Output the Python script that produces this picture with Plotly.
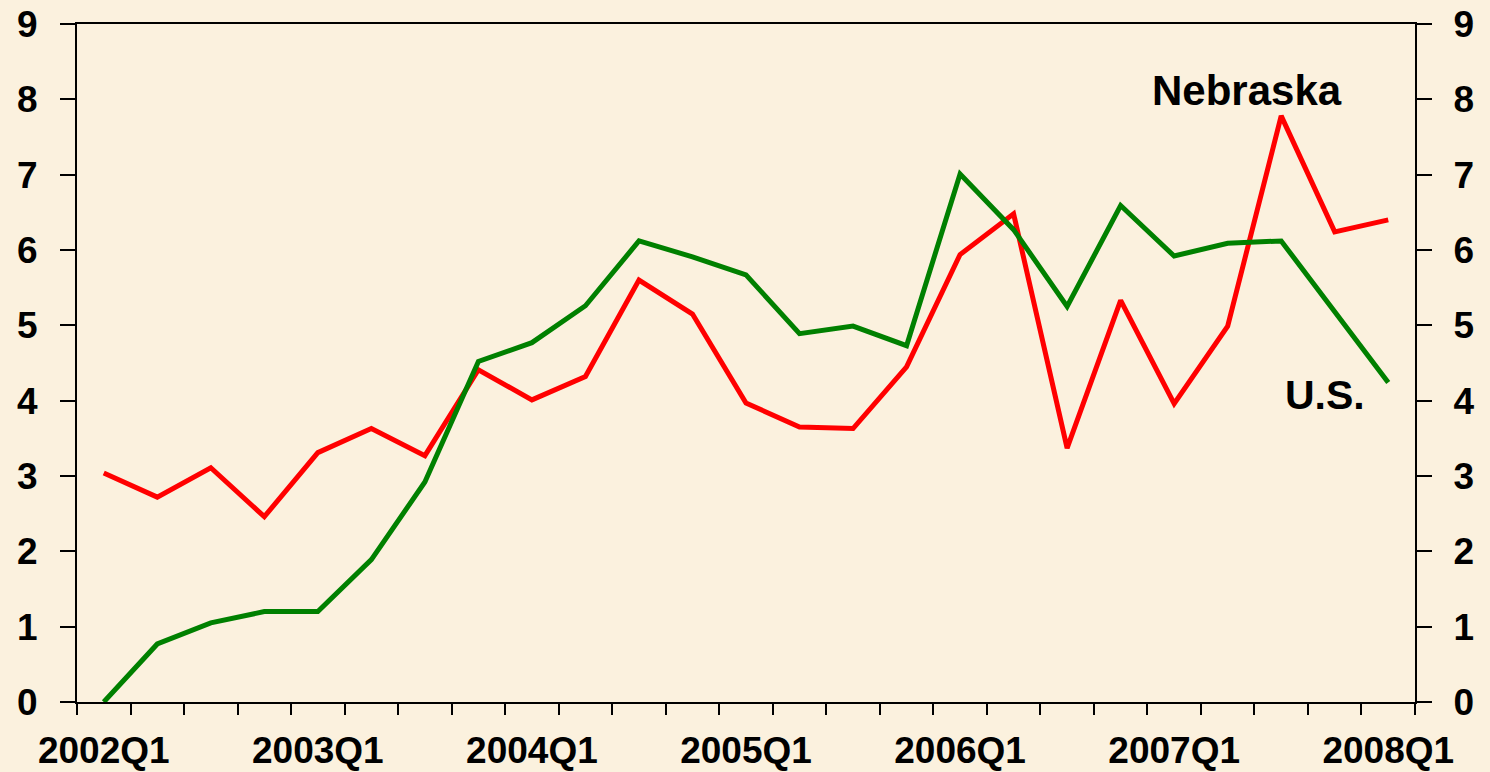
import plotly.graph_objects as go

quarters = [f"{y}Q{q}" for y in range(2002, 2008) for q in range(1, 5)] + ["2008Q1"]

nebraska = [3.04, 2.72, 3.11, 2.46, 3.31, 3.63, 3.27, 4.41, 4.01, 4.32, 5.60, 5.15,
            3.97, 3.65, 3.63, 4.45, 5.94, 6.48, 3.37, 5.33, 3.96, 4.99, 7.78, 6.24, 6.40]
us = [0.00, 0.77, 1.05, 1.20, 1.20, 1.89, 2.92, 4.52, 4.77, 5.26, 6.12, 5.91,
      5.67, 4.89, 4.99, 4.73, 7.01, 6.27, 5.25, 6.59, 5.92, 6.09, 6.12, 5.17, 4.24]

y_ticks = list(range(0, 10))

FONT = "Liberation Sans, Arial, sans-serif"
BG = "#FBF1DE"

fig = go.Figure()
fig.add_trace(go.Scatter(x=quarters, y=nebraska, mode="lines", name="Nebraska",
                         line=dict(color="#FF0000", width=5), yaxis="y"))
fig.add_trace(go.Scatter(x=quarters, y=us, mode="lines", name="U.S.",
                         line=dict(color="#008000", width=5), yaxis="y2"))

fig.add_annotation(x=21.36, y=8.12, xref="x", yref="y", text="Nebraska", showarrow=False,
                   font=dict(family=FONT, size=42, color="black", weight="bold"))
fig.add_annotation(x=22.82, y=4.08, xref="x", yref="y", text="U.S.", showarrow=False,
                   font=dict(family=FONT, size=41, color="black", weight="bold"))

tickfont = dict(family=FONT, size=37, color="black", weight="bold")

fig.update_layout(
    width=1490, height=772,
    margin=dict(l=77, r=75, t=24, b=70),
    paper_bgcolor=BG, plot_bgcolor=BG,
    showlegend=False,
    xaxis=dict(type="category", categoryorder="array", categoryarray=quarters,
               range=[-0.5, 24.5], tickson="boundaries", ticks="outside", ticklen=11,
               tickwidth=2, tickcolor="black", ticklabelstep=4, tickangle=0,
               automargin=False,
               showline=True, linecolor="black", linewidth=2, mirror=True,
               showgrid=False, zeroline=False, tickfont=tickfont, ticklabelstandoff=15),
    yaxis=dict(range=[0, 9], tickvals=y_ticks, ticks="outside", ticklen=15, tickwidth=2,
               tickcolor="black", showline=True, linecolor="black", linewidth=2,
               automargin=False,
               showgrid=False, zeroline=False, tickfont=tickfont, ticklabelstandoff=15),
    yaxis2=dict(range=[0, 9], tickvals=y_ticks, overlaying="y", side="right",
                ticks="outside", ticklen=15, tickwidth=2, tickcolor="black",
                showline=True, linecolor="black", linewidth=2, automargin=False,
                showgrid=False, zeroline=False, tickfont=tickfont, ticklabelstandoff=14),
)

fig.write_html(
    "out.html",
    config={"displayModeBar": False},
    post_script="document.body.style.margin='0';document.body.style.background='" + BG + "';",
)
